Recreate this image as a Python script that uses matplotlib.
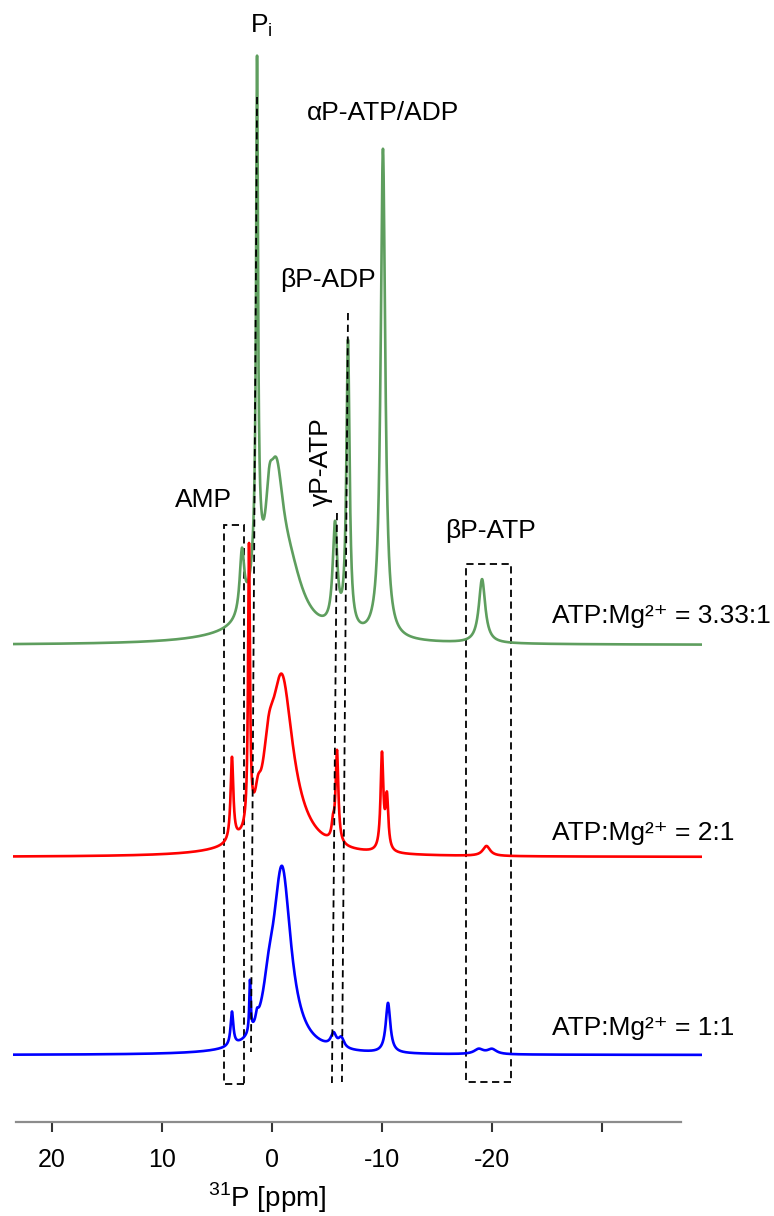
# 31P NMR spectra of ATP at three ATP:Mg2+ ratios

import numpy as np
import matplotlib
matplotlib.use('Agg')
import matplotlib.pyplot as plt
from matplotlib.patches import Rectangle

plt.rcParams['font.family'] = ['Liberation Sans', 'DejaVu Sans']

# peak lists: centre (ppm), height (a.u.), width (FWHM, ppm)
green_pos = [2.73, 1.36, 1.36, 0.25, -0.4, -1.6, 0.0, -5.73, -6.91, -10.09, -19.1]
green_hgt = [64, 480, 58, 58, 122, 50, 12, 102, 288, 490, 64]
green_wid = [0.5, 0.2, 1.0, 0.8, 1.6, 3.0, 10.0, 0.5, 0.35, 0.5, 0.7]

red_pos = [3.64, 2.09, 1.27, 0.3, -0.9, -1.5, -5.55, -5.91, -10.0, -10.45, -19.5]
red_hgt = [84, 279, 20, 50, 158, 15, 15, 92, 96, 52, 10]
red_wid = [0.3, 0.2, 0.6, 1.2, 2.4, 5.0, 0.3, 0.3, 0.3, 0.3, 0.8]

blue_pos = [3.64, 2.0, 1.36, 0.3, -0.91, -5.6, -6.3, -10.55, -18.8, -20.0]
blue_hgt = [34, 52, 9, 30, 183, 13, 10, 50, 5, 5]
blue_wid = [0.3, 0.16, 0.3, 1.2, 2.0, 0.6, 0.6, 0.5, 1.0, 1.0]

offsets = [477, 265, 67]          # baseline of each trace
colors = ['#5e9e5e', '#ff0000', '#0000ff']
ratios = ['3.33:1', '2:1', '1:1']

ppm = np.linspace(23.55, -39.1, 6000)


def spectrum(pos, hgt, wid):
    y = np.zeros_like(ppm)
    for c, h, w in zip(pos, hgt, wid):
        y += h / (1 + ((ppm - c) / (w / 2)) ** 2)
    return y


fig = plt.figure(figsize=(7.74, 12.16), dpi=100)
ax = fig.add_axes([13 / 774, 94 / 1216, 689 / 774, 1122 / 1216])

peaks = [(green_pos, green_hgt, green_wid),
         (red_pos, red_hgt, red_wid),
         (blue_pos, blue_hgt, blue_wid)]
for (p, h, w), off, col in zip(peaks, offsets, colors):
    ax.plot(ppm, spectrum(p, h, w) + off, color=col, lw=1.9)

ax.set_xlim(23.55, -39.1)
ax.set_ylim(0, 1122)

# only bottom axis
for s in ['top', 'right', 'left']:
    ax.spines[s].set_visible(False)
ax.spines['bottom'].set_bounds(23.3, -37.2)
ax.spines['bottom'].set_color('#8c8c8c')
ax.spines['bottom'].set_linewidth(1.6)
ax.set_yticks([])
ax.set_xticks([20, 10, 0, -10, -20, -30])
ax.set_xticklabels(['20', '10', '0', '-10', '-20', ''])
ax.tick_params(axis='x', direction='out', length=7, width=1.5, color='#333333',
               labelsize=18, pad=12)
ax.set_xlabel('$^{\\mathregular{31}}$P [ppm]', fontsize=20)
ax.xaxis.set_label_coords(0.369, -0.0677)
ax.xaxis.label.set_va('center')

# dashed boxes
box_kw = dict(fill=False, ls=(0, (4, 2.5)), lw=1.3, ec='black')
ax.add_patch(Rectangle((2.55, 38), 1.81, 559, **box_kw))
ax.add_patch(Rectangle((-21.73, 40), 4.09, 518, **box_kw))

# dashed guide lines
line_kw = dict(color='black', ls=(0, (4, 2.5)), lw=1.3)
ax.plot([1.36, 1.91], [1025, 70], **line_kw)
ax.plot([-5.91, -5.45], [609, 39], **line_kw)
ax.plot([-6.91, -6.36], [809, 40], **line_kw)

# peak labels
fs = 19
ax.text(2.0, 1090, 'P$_\\mathregular{i}$', fontsize=fs, ha='left', va='baseline')
ax.text(-10.1, 1009, 'αP-ATP/ADP', fontsize=fs, ha='center', va='center')
ax.text(-5.09, 842, 'βP-ADP', fontsize=fs, ha='center', va='center')
ax.text(-4.45, 660, 'γP-ATP', fontsize=fs, ha='center', va='center', rotation=90)
ax.text(6.27, 622, 'AMP', fontsize=fs, ha='center', va='center')
ax.text(-19.9, 591, 'βP-ATP', fontsize=fs, ha='center', va='center')

# ratio labels
label_y = [506, 289, 94]
for y, r in zip(label_y, ratios):
    ax.text(-25.45, y, 'ATP:Mg²⁺ = ' + r, fontsize=fs, ha='left', va='center')

fig.savefig('out.png', dpi=100)
